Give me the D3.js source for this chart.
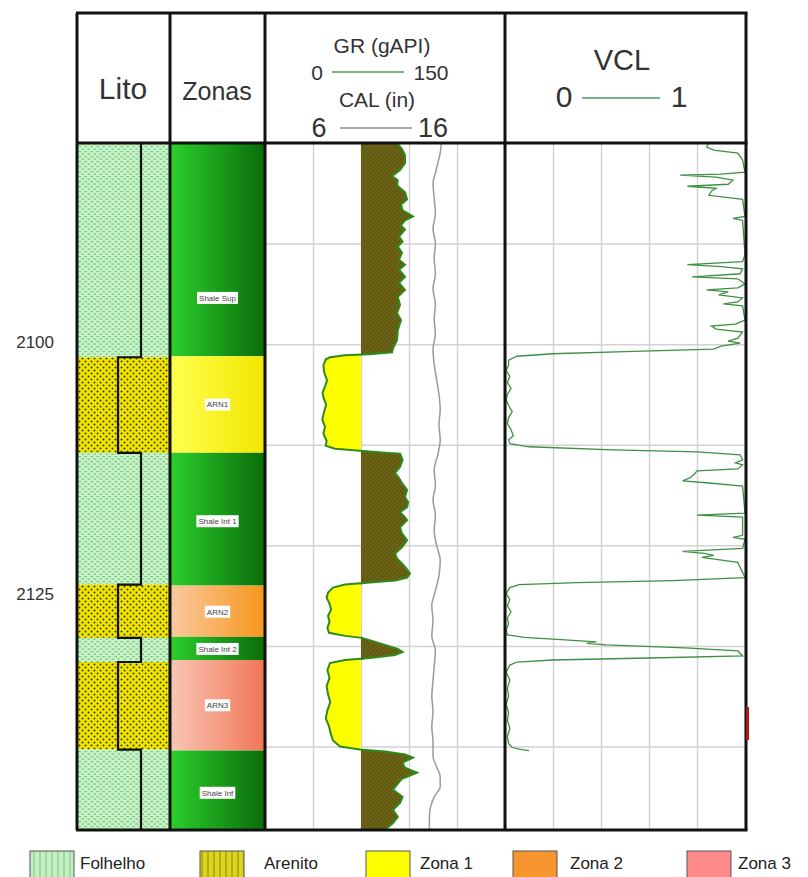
<!DOCTYPE html>
<html>
<head>
<meta charset="utf-8">
<script src="https://cdn.jsdelivr.net/npm/d3@7"></script>
<style>
body { margin: 0; background: #fff; }
text { font-family: "Liberation Sans", Arial, sans-serif; fill: #333; }
</style>
</head>
<body>
<div id="perfil"></div>
<script>
// ===== dados =====
// zonas (profundidade em m)
var zonaNome  = ["Shale Sup", "ARN1", "Shale Int 1", "ARN2", "Shale Int 2", "ARN3", "Shale Inf"];
var zonaTopo  = [2080.0, 2101.2, 2110.8, 2124.0, 2129.1, 2131.4, 2140.4];
var zonaBase  = [2101.2, 2110.8, 2124.0, 2129.1, 2131.4, 2140.4, 2148.3];
var zonaTipo  = ["shale", "zona1", "shale", "zona2", "shale", "zona3", "shale"];
var zonaRotulo = [2095.4, 2106.0, 2117.6, 2126.6, 2130.3, 2135.9, 2144.6];

// litologia
var litoTopo = [2080.0, 2101.3, 2110.8, 2123.9, 2129.2, 2131.6, 2140.3];
var litoBase = [2101.3, 2110.8, 2123.9, 2129.2, 2131.6, 2140.3, 2148.3];
var litoTipo = ["folhelho", "arenito", "folhelho", "arenito", "folhelho", "arenito", "folhelho"];

// GR (gAPI)
var grProf = [2080.0, 2080.6, 2081.2, 2082.0, 2082.7, 2083.3, 2083.7, 2084.2, 2084.9, 2085.6,
  2086.1, 2086.7, 2087.3, 2087.7, 2088.2, 2088.6, 2089.3, 2089.8, 2090.3, 2090.9,
  2091.6, 2092.1, 2092.6, 2093.3, 2093.9, 2094.6, 2095.3, 2096.1, 2096.9, 2097.6,
  2098.6, 2099.6, 2100.4, 2100.8, 2101.0, 2101.1, 2101.3, 2101.5,
  2102.1, 2102.8, 2103.6, 2104.2, 2104.8, 2105.3, 2106.0, 2106.7, 2107.5, 2108.2,
  2108.9, 2109.6, 2110.1, 2110.4, 2110.6, 2110.8, 2110.9,
  2111.5, 2112.2, 2112.8, 2113.3, 2113.8, 2114.5, 2115.2, 2115.7, 2116.2, 2116.7,
  2117.1, 2117.5, 2118.2, 2118.8, 2119.5, 2120.2, 2120.8, 2121.3, 2121.8, 2122.5,
  2122.8, 2123.2, 2123.5, 2123.7, 2123.9, 2124.2,
  2124.7, 2125.2, 2125.8, 2126.4, 2127.0, 2127.6, 2128.2, 2128.7, 2129.0, 2129.2,
  2129.5, 2129.9, 2130.3, 2130.6, 2130.9, 2131.2, 2131.4, 2131.7,
  2132.4, 2133.2, 2134.0, 2134.8, 2135.6, 2136.4, 2137.2, 2138.0, 2138.7, 2139.4,
  2140.0, 2140.3, 2140.5,
  2140.8, 2141.1, 2141.6, 2142.1, 2142.6, 2143.2, 2143.8, 2144.3, 2145.0, 2145.6,
  2146.3, 2147.0, 2147.6, 2148.1, 2148.3];
var grVal = [82.5, 85.6, 87.5, 87.5, 84.4, 79.4, 83, 82.5, 87.5, 88.8,
  85, 86, 92.5, 87.5, 85, 87.5, 83.8, 86, 83, 85.6,
  83.8, 87.5, 83.8, 87.5, 83.8, 87.5, 83, 84.4, 82.5, 85,
  83, 82.5, 80, 79.4, 65, 50, 40.6, 38,
  36.5, 37, 38.8, 37.5, 36, 36.5, 38.2, 37, 35.8, 37.5,
  36.5, 38.5, 38, 43.8, 59.4, 75, 84.4,
  86, 84.4, 81.3, 83.8, 85.6, 88.8, 87.5, 89.4, 88.8, 84.4,
  86.9, 88.8, 84.4, 85.6, 88.8, 85.6, 81.3, 82.5, 85.6, 89.4,
  90.6, 88.8, 81.3, 65.6, 50, 42.5,
  39.4, 38.5, 40.3, 41.3, 39.4, 40.3, 39, 40, 50, 60.6,
  66.9, 75, 83, 86, 81.3, 65.6, 50, 40.6,
  39, 40.3, 38.5, 39.4, 40.8, 39, 38, 40, 41, 42.5,
  46.9, 59.4, 75,
  87.5, 92.5, 86, 87.5, 95, 85.6, 82.5, 80, 86, 84.4,
  80, 83, 80, 76.3, 75];
var grCorte = 60;

// CAL (in)
var calProf = [2080.0, 2081.0, 2082.0, 2083.0, 2084.0, 2085.5, 2087.0, 2088.5, 2090.0, 2091.5,
  2093.0, 2094.5, 2096.0, 2097.5, 2099.0, 2100.5, 2102.0, 2103.5, 2105.0, 2106.5,
  2108.0, 2109.5, 2111.0, 2112.5, 2114.0, 2115.5, 2117.0, 2118.5, 2120.0, 2121.5,
  2123.0, 2124.5, 2126.0, 2127.5, 2129.0, 2130.5, 2132.0, 2133.5, 2135.0, 2136.5,
  2138.0, 2139.5, 2141.0, 2142.0, 2143.0, 2144.0, 2145.0, 2146.0, 2147.0, 2148.3];
var calVal = [13.35, 13.3, 13.2, 13.1, 13.0, 13.05, 13.1, 13.0, 13.1, 13.05,
  13.1, 13.0, 13.1, 13.05, 13.1, 13.0, 13.05, 13.15, 13.25, 13.3,
  13.25, 13.3, 13.2, 13.05, 13.1, 13.0, 13.1, 13.05, 13.15, 13.3,
  13.25, 13.1, 12.95, 13.0, 12.95, 13.1, 13.05, 13.0, 12.95, 13.0,
  12.95, 13.0, 13.0, 13.15, 13.3, 13.3, 13.05, 12.9, 12.85, 12.85];

// VCL (v/v)
var vclProf = [2080.0, 2080.4, 2080.7, 2081.0, 2081.7, 2082.9, 2083.1, 2083.2, 2083.4, 2083.7,
  2084.1, 2084.3, 2084.5, 2084.8, 2085.2, 2085.6, 2087.3, 2087.5, 2087.7, 2091.1,
  2091.8, 2092.1, 2092.3, 2092.5, 2093.0, 2093.3, 2093.5, 2094.0, 2094.4, 2094.6,
  2094.8, 2095.1, 2095.4, 2095.8, 2096.0, 2096.2, 2097.6, 2098.0, 2098.2, 2098.5,
  2098.8, 2099.4, 2099.7, 2099.9, 2100.2, 2100.5, 2100.75, 2100.95, 2101.2, 2101.6,
  2102.1, 2102.6, 2103.2, 2103.8, 2104.4, 2105.0, 2105.5, 2106.1, 2106.7, 2107.3,
  2107.9, 2108.5, 2109.1, 2109.5, 2109.9, 2110.2, 2110.5, 2110.7, 2111.0, 2111.5,
  2111.8, 2112.0, 2112.4, 2112.6, 2112.9, 2113.3, 2113.6, 2113.8, 2114.1, 2116.8,
  2117.0, 2117.2, 2119.0, 2119.2, 2119.4, 2120.3, 2120.6, 2120.8, 2121.0, 2121.2,
  2121.7, 2123.2, 2123.5, 2123.7, 2123.9, 2124.2,
  2124.8, 2125.4, 2126.0, 2126.6, 2127.2, 2127.8, 2128.4, 2128.9, 2129.15, 2129.4,
  2129.6, 2129.75, 2129.9, 2130.2, 2130.5, 2131.0, 2131.2, 2131.4, 2131.6, 2131.9,
  2132.6, 2133.4, 2134.2, 2135.0, 2135.8, 2136.6, 2137.4, 2138.2, 2139.0, 2139.7,
  2140.1, 2140.3, 2140.4];
var vclVal = [0.85, 0.84, 0.87, 0.97, 0.99, 1.0, 0.9, 0.73, 0.88, 0.95,
  0.93, 0.76, 0.88, 0.86, 0.85, 0.99, 1.0, 0.95, 0.99, 1.0,
  0.99, 0.76, 0.9, 0.99, 0.98, 0.78, 0.97, 1.0, 0.97, 0.84,
  0.93, 0.89, 0.99, 0.97, 0.91, 0.99, 1.0, 0.96, 0.86, 0.88,
  0.99, 0.97, 0.93, 0.98, 0.9, 0.87, 0.5, 0.2, 0.05, 0.015,
  0.015, 0.005, 0.02, 0.01, 0.025, 0.01, 0.005, 0.015, 0.03, 0.015,
  0.01, 0.025, 0.035, 0.015, 0.02, 0.1, 0.45, 0.8, 0.98, 0.99,
  0.96, 0.99, 0.97, 0.8, 0.79, 0.77, 0.74, 0.85, 0.99, 1.0,
  0.8, 0.99, 0.99, 0.95, 1.0, 0.99, 0.74, 0.83, 0.87, 0.82,
  0.97, 1.0, 0.7, 0.3, 0.06, 0.02,
  0.005, 0.02, 0.01, 0.025, 0.01, 0.015, 0.005, 0.01, 0.08, 0.25,
  0.38, 0.34, 0.42, 0.75, 0.97, 0.99, 0.6, 0.2, 0.05, 0.02,
  0.005, 0.02, 0.01, 0.015, 0.005, 0.015, 0.01, 0.02, 0.01, 0.015,
  0.03, 0.07, 0.1];

var profRotulos = [2100, 2125];
var profGrade = [2090, 2100, 2110, 2120, 2130, 2140];

var legNomes = ["Folhelho", "Arenito", "Zona 1", "Zona 2", "Zona 3"];
var legTipos = ["folhelhoLeg", "arenitoLeg", "zona1Leg", "zona2Leg", "zona3Leg"];

// ===== layout =====
var W = 808, H = 877;
var topo = 13, cab = 143, fundo = 830;
var xLito = [77, 170], xZona = [170, 265], xGRt = [265, 505], xVCLt = [505, 746];

var svg = d3.select("#perfil").append("svg")
  .attr("width", W).attr("height", H);
var defs = svg.append("defs");

var y = d3.scaleLinear().domain([2080, 2148.3]).range([cab, fundo]);
var xGR = d3.scaleLinear().domain([0, 150]).range(xGRt);
var xCAL = d3.scaleLinear().domain([6, 16]).range(xGRt);
var xVCL = d3.scaleLinear().domain([0, 1]).range([505, 745]);

// padrões
function padrao(id, w, h, fundoCor, desenha) {
  var p = defs.append("pattern").attr("id", id)
    .attr("width", w).attr("height", h).attr("patternUnits", "userSpaceOnUse");
  p.append("rect").attr("width", w).attr("height", h).attr("fill", fundoCor);
  desenha(p);
}
padrao("folhelho", 6, 5, "#c8f2c8", function (p) {
  p.append("rect").attr("x", 0.5).attr("y", 1).attr("width", 2.5).attr("height", 1.2).attr("fill", "#74c87c");
  p.append("rect").attr("x", 3.5).attr("y", 3.5).attr("width", 2.5).attr("height", 1.2).attr("fill", "#74c87c");
});
padrao("arenito", 6, 6, "#f0e400", function (p) {
  p.append("circle").attr("cx", 1.5).attr("cy", 1.5).attr("r", 1).attr("fill", "#3a3a00");
  p.append("circle").attr("cx", 4.5).attr("cy", 4.5).attr("r", 1).attr("fill", "#3a3a00");
});
padrao("grShale", 4, 4, "#625a10", function (p) {
  p.append("circle").attr("cx", 1).attr("cy", 1).attr("r", 0.8).attr("fill", "#7a6e1c");
  p.append("circle").attr("cx", 3).attr("cy", 3).attr("r", 0.8).attr("fill", "#7a6e1c");
});
padrao("folhelhoLeg", 6, 6, "#c4eec4", function (p) {
  p.append("rect").attr("x", 3).attr("width", 2).attr("height", 6).attr("fill", "#a2d8a2");
});
padrao("arenitoLeg", 6, 6, "#dcd41e", function (p) {
  p.append("rect").attr("x", 3).attr("width", 2).attr("height", 6).attr("fill", "#b6ae10");
});

// gradientes das zonas
var gradCores = {
  shale: ["#2cd02c", "#0a6c0a"],
  zona1: ["#ffff50", "#f2e600"],
  zona2: ["#f9caa0", "#f7961c"],
  zona3: ["#fac6b6", "#f07656"]
};
Object.keys(gradCores).forEach(function (k) {
  var g = defs.append("linearGradient").attr("id", "g_" + k)
    .attr("x1", "0%").attr("x2", "100%").attr("y1", "0%").attr("y2", "0%");
  g.append("stop").attr("offset", "0%").attr("stop-color", gradCores[k][0]);
  g.append("stop").attr("offset", "100%").attr("stop-color", gradCores[k][1]);
});

// ===== Lito =====
var lito = litoTipo.map(function (t, i) { return { tipo: t, topo: litoTopo[i], base: litoBase[i] }; });
svg.append("g").selectAll("rect").data(lito).enter().append("rect")
  .attr("x", xLito[0]).attr("width", xLito[1] - xLito[0])
  .attr("y", function (d) { return y(d.topo); })
  .attr("height", function (d) { return y(d.base) - y(d.topo); })
  .attr("fill", function (d) { return "url(#" + d.tipo + ")"; });

// linha de granulometria (degraus)
var xGrao = d3.scaleOrdinal().domain(["folhelho", "arenito"]).range([141, 118]);
var degraus = [];
lito.forEach(function (d) {
  degraus.push([xGrao(d.tipo), y(d.topo)]);
  degraus.push([xGrao(d.tipo), y(d.base)]);
});
svg.append("path").attr("d", d3.line()(degraus))
  .attr("fill", "none").attr("stroke", "#111").attr("stroke-width", 2.2);

// ===== Zonas =====
var zonas = zonaNome.map(function (n, i) {
  return { nome: n, topo: zonaTopo[i], base: zonaBase[i], tipo: zonaTipo[i], rot: zonaRotulo[i] };
});
svg.append("g").selectAll("rect").data(zonas).enter().append("rect")
  .attr("x", xZona[0]).attr("width", xZona[1] - xZona[0])
  .attr("y", function (d) { return y(d.topo); })
  .attr("height", function (d) { return y(d.base) - y(d.topo); })
  .attr("fill", function (d) { return "url(#g_" + d.tipo + ")"; });

var rot = svg.append("g").selectAll("g").data(zonas).enter().append("g")
  .attr("transform", function (d) { return "translate(" + (xZona[0] + xZona[1]) / 2 + "," + y(d.rot) + ")"; });
rot.append("rect").attr("fill", "#fff");
rot.append("text").attr("text-anchor", "middle").attr("dy", "0.35em")
  .style("font-size", "8px").style("fill", "#444")
  .text(function (d) { return d.nome; });
rot.each(function () {
  var g = d3.select(this), w = g.select("text").node().getComputedTextLength();
  g.select("rect").attr("x", -w / 2 - 2).attr("y", -6).attr("width", w + 4).attr("height", 12);
});

// ===== grades =====
function grade(x0, x1) {
  var g = svg.append("g");
  g.append("g").attr("transform", "translate(0," + cab + ")")
    .call(d3.axisBottom(d3.scaleLinear().domain([0, 5]).range([x0, x1])).ticks(5)
      .tickSize(fundo - cab).tickFormat(""));
  g.append("g").attr("transform", "translate(" + x0 + ",0)")
    .call(d3.axisRight(y).tickValues(profGrade).tickSize(x1 - x0).tickFormat(""));
  g.selectAll(".domain").remove();
  g.selectAll("line").attr("stroke", "#d2d2d2").attr("stroke-width", 1.5);
}
grade(xGRt[0], xGRt[1]);
grade(xVCLt[0], 745);

// ===== GR + CAL =====
var gr = grProf.map(function (p, i) { return { p: p, v: grVal[i] }; });
svg.append("path").datum(gr)
  .attr("d", d3.area().y(function (d) { return y(d.p); })
    .x0(xGR(grCorte)).x1(function (d) { return xGR(Math.max(d.v, grCorte)); }))
  .attr("fill", "url(#grShale)");
svg.append("path").datum(gr)
  .attr("d", d3.area().y(function (d) { return y(d.p); })
    .x0(xGR(grCorte)).x1(function (d) { return xGR(Math.min(d.v, grCorte)); }))
  .attr("fill", "#ffff00");
svg.append("path").datum(gr)
  .attr("d", d3.line().y(function (d) { return y(d.p); }).x(function (d) { return xGR(d.v); }))
  .attr("fill", "none").attr("stroke", "#2f8a1e").attr("stroke-width", 2);

var cal = calProf.map(function (p, i) { return { p: p, v: calVal[i] }; });
svg.append("path").datum(cal)
  .attr("d", d3.line().curve(d3.curveMonotoneY).y(function (d) { return y(d.p); }).x(function (d) { return xCAL(d.v); }))
  .attr("fill", "none").attr("stroke", "#9a9a9a").attr("stroke-width", 1.5);

// ===== VCL =====
var vcl = vclProf.map(function (p, i) { return { p: p, v: vclVal[i] }; });
svg.append("path").datum(vcl)
  .attr("d", d3.line().y(function (d) { return y(d.p); }).x(function (d) { return xVCL(d.v); }))
  .attr("fill", "none").attr("stroke", "#3f8f45").attr("stroke-width", 1.3);

// ===== bordas =====
var bordas = svg.append("g").attr("stroke", "#111").attr("stroke-width", 3);
[77, 170, 265, 505, 746].forEach(function (x) {
  bordas.append("line").attr("x1", x).attr("x2", x).attr("y1", topo).attr("y2", fundo);
});
[topo, cab, fundo].forEach(function (yy) {
  bordas.append("line").attr("x1", 76).attr("x2", 747.5).attr("y1", yy).attr("y2", yy);
});

// marca vermelha na borda direita (trilha seguinte)
svg.append("rect").attr("x", 746).attr("y", 707).attr("width", 3).attr("height", 33).attr("fill", "#b01818");

// ===== cabeçalho =====
function texto(x, yy, t, tam) {
  svg.append("text").attr("x", x).attr("y", yy).attr("text-anchor", "middle")
    .style("font-size", tam + "px").text(t);
}
texto(123, 99, "Lito", 30);
texto(217, 100, "Zonas", 25);
texto(382, 53, "GR (gAPI)", 21);
texto(317, 80, "0", 21);
texto(431, 80, "150", 21);
svg.append("line").attr("x1", 332).attr("x2", 404).attr("y1", 72).attr("y2", 72)
  .attr("stroke", "#4a9a5a").attr("stroke-width", 1.5);
texto(377, 107, "CAL (in)", 21);
texto(319, 137, "6", 27);
texto(433, 137, "16", 27);
svg.append("line").attr("x1", 340).attr("x2", 412).attr("y1", 128).attr("y2", 128)
  .attr("stroke", "#8a8a8a").attr("stroke-width", 1.5);
texto(622, 70, "VCL", 29);
texto(564, 107, "0", 30);
texto(679, 107, "1", 30);
svg.append("line").attr("x1", 582).attr("x2", 660).attr("y1", 98).attr("y2", 98)
  .attr("stroke", "#4a9a5a").attr("stroke-width", 1.5);

// ===== profundidade =====
var eixoProf = svg.append("g").attr("transform", "translate(54,-2)")
  .call(d3.axisLeft(y).tickValues(profRotulos).tickSize(0).tickPadding(0).tickFormat(d3.format("d")));
eixoProf.select(".domain").remove();
eixoProf.selectAll("text").style("font-size", "17px").style("font-family", "Liberation Sans, Arial, sans-serif")
  .attr("fill", "#333");

// ===== legenda =====
var legX = [30, 200, 366, 513, 687];
var legTxtX = [80, 264, 420, 570, 738];
var legCor = { zona1Leg: "#ffff00", zona2Leg: "#f7962e", zona3Leg: "#ff8a8a" };
var leg = svg.append("g").selectAll("g").data(legNomes).enter().append("g");
leg.append("rect")
  .attr("x", function (d, i) { return legX[i]; }).attr("y", 851)
  .attr("width", 44).attr("height", 30)
  .attr("fill", function (d, i) { var t = legTipos[i]; return legCor[t] || "url(#" + t + ")"; })
  .attr("stroke", "#555").attr("stroke-width", 1);
leg.append("text")
  .attr("x", function (d, i) { return legTxtX[i]; }).attr("y", 869)
  .style("font-size", "17px").style("fill", "#222")
  .text(function (d) { return d; });
</script>
</body>
</html>
